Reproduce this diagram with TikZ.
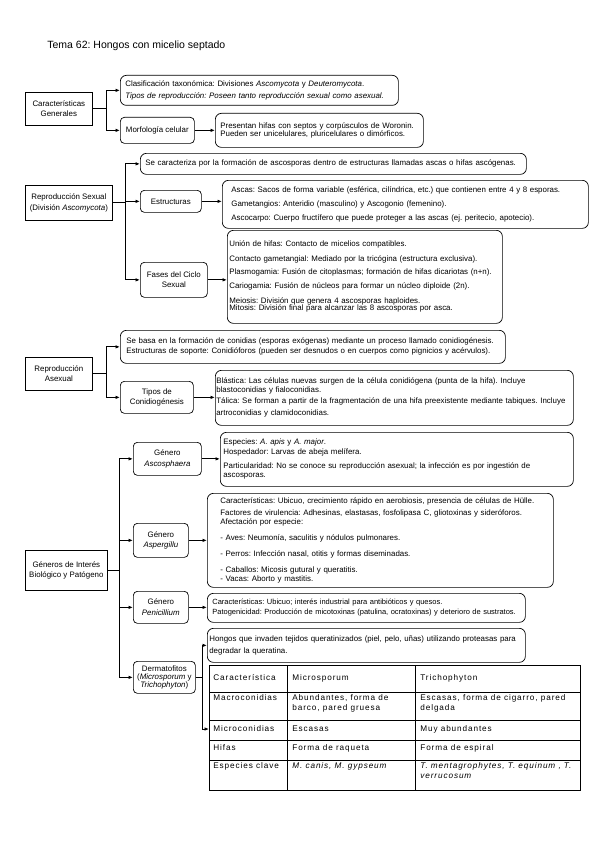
\documentclass[tikz,border=0pt]{standalone}
\usepackage{fontspec}
\setmainfont{Liberation Sans}
\newfontfamily\tabfont[LetterSpace=11]{Liberation Sans}
\usetikzlibrary{arrows.meta}

\begin{document}
\frenchspacing
\begin{tikzpicture}[x=1pt,y=-1pt,line width=0.7pt,>={Latex[length=4.5pt,width=3.6pt]},
  font=\fontsize{7.9}{8.5}\selectfont,
  hdr/.style={draw,align=center,anchor=north west,inner sep=0pt,font=\fontsize{7.9}{10.5}\selectfont},
  sub/.style={draw,rounded corners=4pt,align=center,anchor=north west,inner sep=0pt,font=\fontsize{7.9}{10.5}\selectfont},
  txt/.style={draw,rounded corners=6pt,align=left,anchor=north west,inner ysep=0pt},
  con/.style={->,line width=0.9pt},
  cell/.style={anchor=west,align=left,inner sep=0pt,font=\tabfont\fontsize{8.2}{10}\selectfont}]
  \useasboundingbox[fill=white] (0,0) rectangle (599,848);
  % titulo
  \node[anchor=base west,inner sep=0pt,font=\fontsize{10.5}{12}\selectfont] (titulo) at (47,49) {Tema 62: Hongos con micelio septado};
  % caracteristicas generales
  \node[hdr,minimum width=67,minimum height=33] (cg) at (25,92) {Características\\Generales};
  \node[txt,text width=268,inner xsep=5,minimum height=30] (clas) at (120,75) {Clasificación taxonómica: Divisiones \textit{Ascomycota} y \textit{Deuteromycota}.\\[3.5pt]\textit{Tipos de reproducción: Poseen tanto reproducción sexual como asexual.}};
  \node[sub,minimum width=74,minimum height=26] (morf) at (120,117) {Morfología celular};
  \node[txt,text width=198,inner xsep=5,minimum height=34] (morft) at (215,113) {Presentan hifas con septos y corpúsculos de Woronin.\\Pueden ser unicelulares, pluricelulares o dimórficos.};
  \draw[con] (cg.east) -- ++(14,0) |- (clas.west);
  \draw[con] (cg.east) -- ++(14,0) |- (morf.west);
  \draw[con] (morf.east) -- (morf.east -| morft.west);
  % reproduccion sexual
  \node[hdr,minimum width=87,minimum height=35] (rs) at (25,185) {Reproducción Sexual\\(División \textit{Ascomycota})};
  \node[txt,text width=376,inner xsep=5,minimum height=21] (rsdef) at (140,153) {Se caracteriza por la formación de ascosporas dentro de estructuras llamadas ascas o hifas ascógenas.};
  \node[sub,minimum width=61,minimum height=22] (estr) at (140,190) {Estructuras};
  \node[txt,text width=348,inner xsep=9,minimum height=48] (estrt) at (222,180) {Ascas: Sacos de forma variable (esférica, cilíndrica, etc.) que contienen entre 4 y 8 esporas.\\[5.5pt]Gametangios: Anteridio (masculino) y Ascogonio (femenino).\\[5.5pt]Ascocarpo: Cuerpo fructífero que puede proteger a las ascas (ej. peritecio, apotecio).};
  \node[sub,minimum width=67,minimum height=35] (fases) at (140,262) {Fases del Ciclo\\Sexual};
  \node[txt,text width=271,inner xsep=2,minimum height=93] (fasest) at (227,230) {Unión de hifas: Contacto de micelios compatibles.\\[6pt]Contacto gametangial: Mediado por la tricógina (estructura exclusiva).\\[4.5pt]Plasmogamia: Fusión de citoplasmas; formación de hifas dicariotas (n+n).\\[6pt]Cariogamia: Fusión de núcleos para formar un núcleo diploide (2n).\\[6pt]Meiosis: División que genera 4 ascosporas haploides.\\[-1pt]Mitosis: División final para alcanzar las 8 ascosporas por asca.};
  \draw[con] (rs.east) -- ++(13,0) |- (rsdef.west);
  \draw[con] (rs.east) -- ++(13,0) |- (estr.west);
  \draw[con] (rs.east) -- ++(13,0) |- (fases.west);
  \draw[con] (estr.east) -- (estr.east -| estrt.west);
  \draw[con] (fases.east) -- (fases.east -| fasest.west);
  % reproduccion asexual
  \node[hdr,minimum width=67,minimum height=33] (ra) at (25,357) {Reproducción\\Asexual};
  \node[txt,text width=373,inner xsep=6,minimum height=33] (radef) at (120,330) {Se basa en la formación de conidias (esporas exógenas) mediante un proceso llamado conidiogénesis.\\[1.5pt]Estructuras de soporte: Conidióforos (pueden ser desnudos o en cuerpos como pignicios y acérvulos).};
  \node[sub,minimum width=73,minimum height=32] (tipos) at (120,381) {Tipos de\\Conidiogénesis};
  \node[txt,text width=356,inner xsep=1,minimum height=55] (tipost) at (215,370) {Blástica: Las células nuevas surgen de la célula conidiógena (punta de la hifa). Incluye\\[0.5pt]blastoconidias y fialoconidias.\\[2.5pt]Tálica: Se forman a partir de la fragmentación de una hifa preexistente mediante tabiques. Incluye\\[3.5pt]artroconidias y clamidoconidias.};
  \draw[con] (ra.east) -- ++(14,0) |- (radef.west);
  \draw[con] (ra.east) -- ++(14,0) |- (tipos.west);
  \draw[con] (tipos.east) -- (tipos.east -| tipost.west);
  % generos
  \node[hdr,minimum width=82,minimum height=40] (gen) at (25,550) {Géneros de Interés\\Biológico y Patógeno};
  \node[sub,minimum width=68,minimum height=33] (asco) at (133,442) {Género\\\textit{Ascosphaera}};
  \node[txt,text width=347,inner xsep=3,minimum height=54] (ascot) at (220,432) {Especies: \textit{A. apis} y \textit{A. major}.\\[1.5pt]Hospedador: Larvas de abeja melífera.\\[5.5pt]Particularidad: No se conoce su reproducción asexual; la infección es por ingestión de\\[0.5pt]ascosporas.};
  \node[sub,minimum width=55,minimum height=34] (asp) at (133,523) {Género\\\textit{Aspergillu}};
  \node[txt,text width=320,inner xsep=13,minimum height=94] (aspt) at (207,493) {Características: Ubicuo, crecimiento rápido en aerobiosis, presencia de células de Hülle.\\[3.5pt]Factores de virulencia: Adhesinas, elastasas, fosfolipasa C, gliotoxinas y sideróforos.\\[0.5pt]Afectación por especie:\\[7.5pt]- Aves: Neumonía, saculitis y nódulos pulmonares.\\[7.5pt]- Perros: Infección nasal, otitis y formas diseminadas.\\[7.5pt]- Caballos: Micosis gutural y queratitis.\\[0.5pt]- Vacas: Aborto y mastitis.};
  \node[sub,minimum width=55,minimum height=32] (pen) at (133,591) {Género\\\textit{Penicillium}};
  \node[txt,text width=308,inner xsep=5,minimum height=29,font=\fontsize{7.5}{8.5}\selectfont] (pent) at (207,593) {Características: Ubicuo; interés industrial para antibióticos y quesos.\\[1.5pt]Patogenicidad: Producción de micotoxinas (patulina, ocratoxinas) y deterioro de sustratos.};
  \node[sub,minimum width=62,minimum height=32,font=\fontsize{7.9}{8.3}\selectfont] (derm) at (133,661) {Dermatofitos\\(\textit{Microsporum} y\\\textit{Trichophyton})};
  \node[txt,text width=314,inner xsep=2,minimum height=34] (dermt) at (207,628) {Hongos que invaden tejidos queratinizados (piel, pelo, uñas) utilizando proteasas para\\[3.5pt]degradar la queratina.};
  \draw[con] (gen.east) -- ++(12,0) |- (asco.west);
  \draw[con] (gen.east) -- ++(12,0) |- (asp.west);
  \draw[con] (gen.east) -- ++(12,0) |- (pen.west);
  \draw[con] (gen.east) -- ++(12,0) |- (derm.west);
  \draw[con] (asco.east) -- (asco.east -| ascot.west);
  \draw[con] (asp.east) -- (asp.east -| aspt.west);
  \draw[con] (pen.east) -- (pen.east -| pent.west);
  % tabla dermatofitos
  \node[draw,line width=0.6pt,minimum width=371,minimum height=125,anchor=north west,inner sep=0pt] (tab) at (209,665) {};
  \foreach \cx in {287,415} \draw[line width=0.6pt] (\cx,665) -- (\cx,790);
  \foreach \ry in {692,720,740,760} \draw[line width=0.6pt] (209,\ry) -- (580,\ry);
  \coordinate (tabIn) at (209,729);
  \node[cell] (c11) at (213,678) {Característica};
  \node[cell] (c12) at (292,678) {Microsporum};
  \node[cell] (c13) at (420,678) {Trichophyton};
  \node[cell] (c21) at (213,698) {Macroconidias};
  \node[cell] (c22) at (292,703) {Abundantes, forma de\\barco, pared gruesa};
  \node[cell] (c23) at (420,703) {Escasas, forma de cigarro, pared\\delgada};
  \node[cell] (c31) at (213,729) {Microconidias};
  \node[cell] (c32) at (292,729) {Escasas};
  \node[cell] (c33) at (420,729) {Muy abundantes};
  \node[cell] (c41) at (213,748) {Hifas};
  \node[cell] (c42) at (292,748) {Forma de raqueta};
  \node[cell] (c43) at (420,748) {Forma de espiral};
  \node[cell] (c51) at (213,766) {Especies clave};
  \node[cell] (c52) at (292,766) {\textit{M. canis, M. gypseum}};
  \node[cell] (c53) at (420,771) {\textit{T. mentagrophytes, T. equinum , T.}\\\textit{verrucosum}};
  \draw[con] (derm.east) -- ++(7,0) |- (dermt.west);
  \draw[con] (derm.east) -- ++(7,0) |- (tabIn);
\end{tikzpicture}
\end{document}
